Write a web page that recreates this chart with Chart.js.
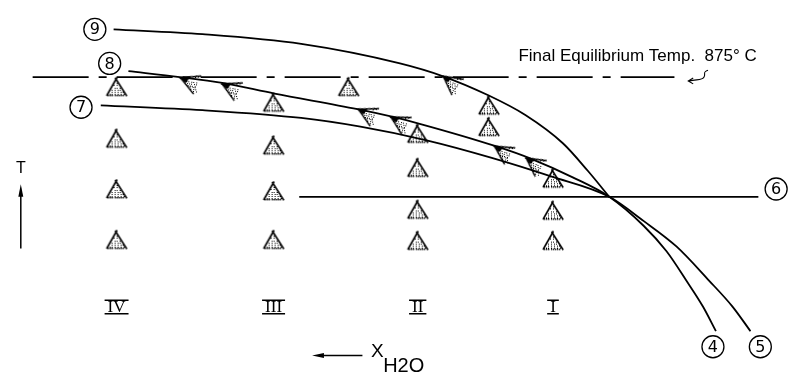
<!DOCTYPE html>
<html>
<head>
<meta charset="utf-8">
<script src="https://cdn.jsdelivr.net/npm/chart.js@4/dist/chart.umd.min.js"></script>
<style>
html, body { margin: 0; padding: 0; background: #fff; }
#wrap { width: 792px; height: 379px; }
</style>
</head>
<body>
<div id="wrap"><canvas id="diagram"></canvas></div>
<script>
// schematic, values in scale units (x 0-792 left to right, y 0-379 top down)
var curve9 = [[110,25],[200,30],[300,40],[400,60],[443,73],[490,93],[527,113],[565,142],[590,170],[612,197]];
// curve 8 runs on into end 4, curve 7 into end 5
var curve8 = [[125,68],[177,74],[220,80],[273,91],[357,107],[393,115],[420,122],[497,145],[533,158],[575,177],[612,197],[647,227],[670,253],[690,283],[707,310],[720,335]];
var curve7 = [[97,103],[200,108],[300,116],[360,125],[427,139],[493,157],[553,176],[612,197],[647,222],[680,248],[713,283],[737,310],[755,335]];
var curve6 = [[298,197],[763,197]];
var finalTemp = [[28,74],[678,74]];

var crystals = [[113,84],[113,137],[113,189],[113,241],
                [272,100],[272,144],[272,191],[272,241],
                [348,84],
                [418,132],[418,167],[418,210],[418,242],
                [490,103],[490,125],
                [555,178],[555,211],[555,242]];
var arrows = [[177,75],[219,81],[357,107],[390,115],[443,73],[495,145],[527,157]];
var arrowAngle = [8, 11, 12, 15, 22, 18, 21];

var columns = ['IV', 'III', 'II', 'I'];
var columnX = [113, 272, 418, 555];
var curveLabels = ['9', '8', '7', '6', '4', '5'];
var curveLabelAt = [[91,25],[106,60],[77,105],[781,189],[717,351],[765,351]];

function pts(a) {
    return a.map(function (p) { return { x: p[0], y: p[1] }; });
}

// stippled crystal ("A") marker
function makeCrystal() {
    var c = document.createElement('canvas');
    c.width = 24; c.height = 22;
    var g = c.getContext('2d');
    g.strokeStyle = '#000';
    g.fillStyle = '#000';
    g.lineWidth = 1.6;
    g.beginPath();
    g.moveTo(2, 20); g.lineTo(12.5, 1.5);
    g.moveTo(10.5, 2); g.lineTo(22, 20);
    g.stroke();
    for (var yy = 5, row = 0; yy < 19; yy += 2.2, row++) {
        var half = (yy - 2) * 10 / 18;
        for (var xx = 12 - half + 1.5 + (row % 2) * 1.4; xx < 12 + half - 1; xx += 2.8) {
            g.fillRect(Math.round(xx), Math.round(yy), 1, 1);
        }
    }
    for (var bx = 3; bx < 21; bx += 2.2) g.fillRect(Math.round(bx), 19, 1.4, 1.4);
    return c;
}

// half arrow head with stipple, tip sits in the middle of the canvas
function makeBarb() {
    var c = document.createElement('canvas');
    c.width = 50; c.height = 40;
    var g = c.getContext('2d');
    g.strokeStyle = '#000';
    g.fillStyle = '#000';
    g.lineWidth = 1.5;
    g.beginPath();
    g.moveTo(25, 20); g.lineTo(46, 15);
    g.moveTo(26, 20); g.lineTo(41, 34);
    g.stroke();
    g.beginPath();
    g.moveTo(24, 20); g.lineTo(35, 17.5); g.lineTo(32, 24);
    g.closePath();
    g.fill();
    for (var yy = 22, row = 0; yy < 32; yy += 1.8, row++) {
        var x0 = 26 + (yy - 20) * 15 / 14;
        for (var xx = x0 + 1.5 + (row % 2); xx < 43; xx += 2.4) g.fillRect(Math.round(xx), Math.round(yy), 1, 1);
    }
    g.fillRect(38, 16, 1, 1); g.fillRect(41, 15, 1, 1); g.fillRect(43, 16, 1, 1); g.fillRect(40, 17, 1, 1);
    return c;
}

var crystalImg = makeCrystal();
var barbImg = makeBarb();

var notes = {
    id: 'notes',
    afterDatasetsDraw: function (chart) {
        var ctx = chart.ctx, sx = chart.scales.x, sy = chart.scales.y;
        function px(v) { return sx.getPixelForValue(v); }
        function py(v) { return sy.getPixelForValue(v); }
        ctx.save();
        ctx.fillStyle = '#000';
        ctx.strokeStyle = '#000';
        ctx.textAlign = 'center';
        ctx.textBaseline = 'middle';

        // circled curve numbers
        ctx.lineWidth = 1.3;
        ctx.font = '16px "DejaVu Sans"';
        curveLabels.forEach(function (t, i) {
            var x = px(curveLabelAt[i][0]), y = py(curveLabelAt[i][1]);
            ctx.beginPath();
            ctx.arc(x, y, 11, 0, Math.PI * 2);
            ctx.stroke();
            ctx.fillText(t, x, y + 1);
        });

        // roman numerals with bars
        ctx.font = '17px "Liberation Serif"';
        columns.forEach(function (t, i) {
            var x = px(columnX[i]), y = py(310);
            var w = ctx.measureText(t).width + 6;
            ctx.fillText(t, x, y + 1);
            ctx.lineWidth = 1.5;
            ctx.beginPath();
            ctx.moveTo(x - w / 2, y - 6.5); ctx.lineTo(x + w / 2, y - 6.5);
            ctx.moveTo(x - w / 2, y + 7); ctx.lineTo(x + w / 2, y + 7);
            ctx.stroke();
        });

        // final temperature note
        ctx.textAlign = 'left';
        ctx.font = '17px "Liberation Sans"';
        ctx.fillText('Final Equilibrium Temp.  875\u00B0 C', px(520), py(53));
        // little wavy arrow
        ctx.lineWidth = 1.1;
        ctx.beginPath();
        ctx.moveTo(px(693), py(78));
        ctx.bezierCurveTo(px(700), py(76), px(706), py(78), px(708), py(74));
        ctx.bezierCurveTo(px(710), py(70), px(706), py(69), px(712), py(67));
        ctx.moveTo(px(697), py(75)); ctx.lineTo(px(692), py(78)); ctx.lineTo(px(697), py(81));
        ctx.stroke();

        // T axis arrow
        ctx.textAlign = 'center';
        ctx.font = '16px "Liberation Sans"';
        ctx.fillText('T', px(16), py(168));
        ctx.lineWidth = 1.5;
        ctx.beginPath();
        ctx.moveTo(px(16), py(250)); ctx.lineTo(px(16), py(192));
        ctx.stroke();
        ctx.beginPath();
        ctx.moveTo(px(16), py(184)); ctx.lineTo(px(18.5), py(197)); ctx.lineTo(px(13.5), py(197));
        ctx.closePath();
        ctx.fill();

        // X H2O arrow
        ctx.beginPath();
        ctx.moveTo(px(362), py(360)); ctx.lineTo(px(320), py(360));
        ctx.stroke();
        ctx.beginPath();
        ctx.moveTo(px(311), py(360)); ctx.lineTo(px(323), py(357.5)); ctx.lineTo(px(323), py(362.5));
        ctx.closePath();
        ctx.fill();
        ctx.font = '19px "Liberation Sans"';
        ctx.fillText('X', px(377), py(356));
        ctx.textAlign = 'left';
        ctx.font = '20px "Liberation Sans"';
        ctx.fillText('H2O', px(383), py(371));
        ctx.restore();
    }
};

function curveSet(a, extra) {
    var d = {
        data: pts(a),
        showLine: true,
        borderColor: '#000',
        borderWidth: 1.8,
        pointRadius: 0,
        cubicInterpolationMode: 'monotone',
        clip: false
    };
    for (var k in extra) d[k] = extra[k];
    return d;
}

var ctxD = document.getElementById('diagram').getContext('2d');
var diagram = new Chart(ctxD, {
    type: 'scatter',
    data: {
        datasets: [
            {
                data: pts(arrows),
                pointStyle: barbImg,
                pointRotation: arrowAngle,
                pointRadius: 3,
                clip: false
            },
            {
                data: pts(crystals),
                pointStyle: crystalImg,
                pointRadius: 3,
                clip: false
            },
            curveSet(curve9),
            curveSet(curve8),
            curveSet(curve7),
            curveSet(curve6, { cubicInterpolationMode: 'default', tension: 0 }),
            curveSet(finalTemp, { cubicInterpolationMode: 'default', tension: 0, borderWidth: 1.8, borderDash: [56, 10, 8, 10] })
        ]
    },
    options: {
        responsive: true,
        maintainAspectRatio: false,
        animation: false,
        layout: { padding: 0 },
        plugins: { legend: { display: false }, tooltip: { enabled: false } },
        scales: {
            x: { type: 'linear', min: 0, max: 792, display: false },
            y: { type: 'linear', min: 0, max: 379, reverse: true, display: false }
        }
    },
    plugins: [notes]
});
</script>
</body>
</html>
